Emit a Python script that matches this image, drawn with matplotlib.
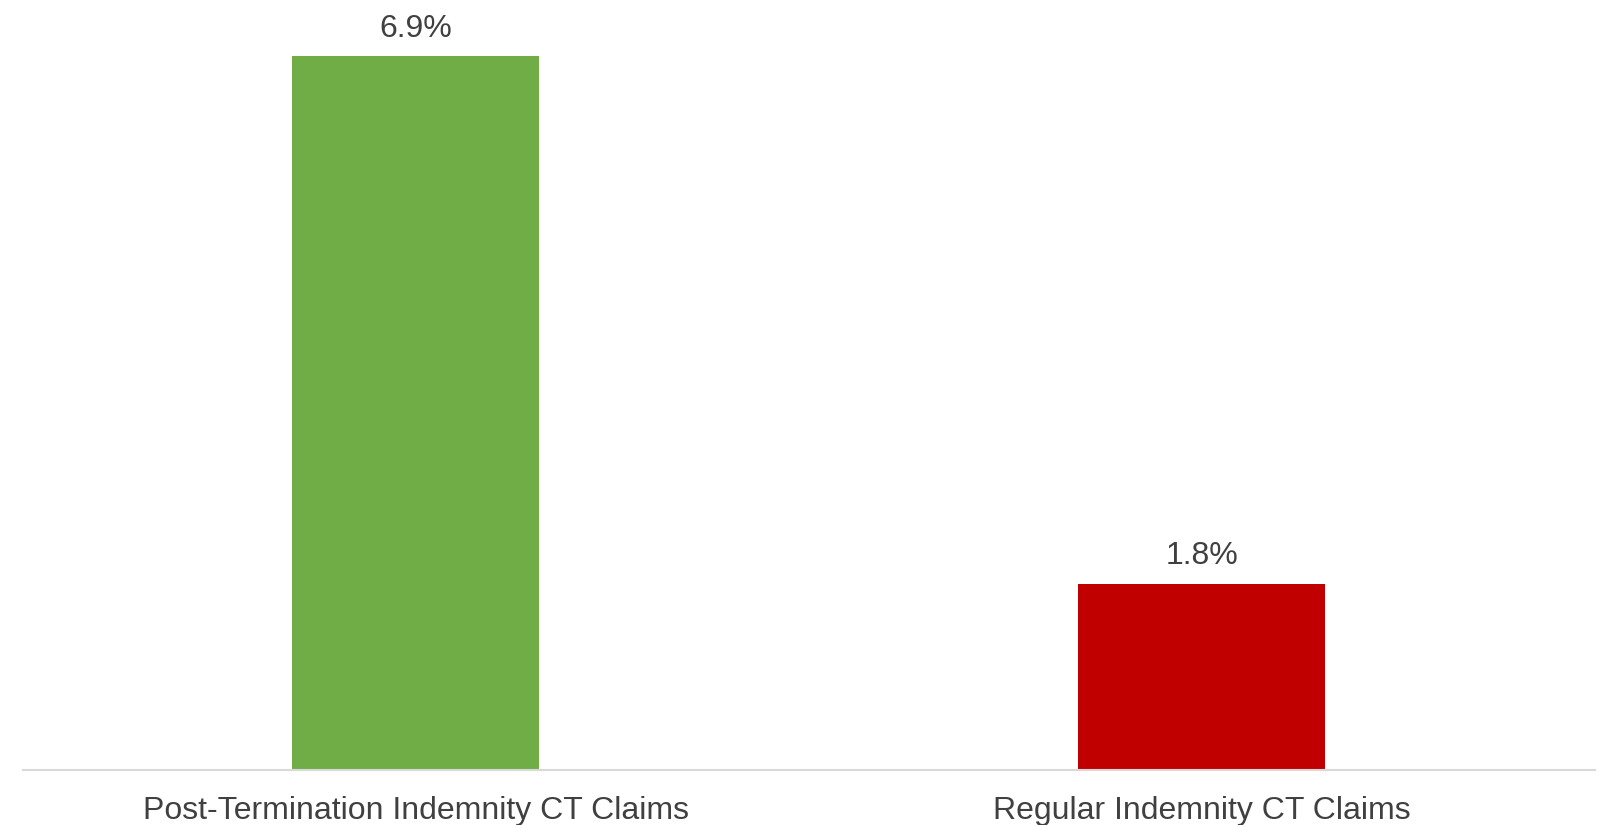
import matplotlib
matplotlib.use("Agg")
import matplotlib.pyplot as plt

# chart data
categories = ["Post-Termination Indemnity CT Claims", "Regular Indemnity CT Claims"]
values = [6.9, 1.8]
bar_colors = ["#70AD47", "#C00000"]

plt.rcParams["font.family"] = ["Liberation Sans", "DejaVu Sans"]
text_color = "#404040"

W, H = 1599, 825
fig = plt.figure(figsize=(W / 100, H / 100), dpi=100)
# axes placed in pixel terms: baseline at y=769.5, plot spans x 22.7..1595
left, right = 22.7, 1595
base, top = 769.5, 25.5
ax = fig.add_axes([left / W, (H - base) / H, (right - left) / W, (base - top) / H])

x = range(len(categories))
bars = ax.bar(x, values, width=0.314, color=bar_colors, zorder=2)

ax.set_xlim(-0.5, len(categories) - 0.5)
ax.set_ylim(0, 7.2)

for rect, v in zip(bars, values):
    ax.annotate(f"{v:.1f}%", (rect.get_x() + rect.get_width() / 2, v),
                xytext=(0, 9), textcoords="offset points",
                ha="center", va="bottom", fontsize=23, color=text_color)

ax.set_xticks(list(x))
ax.set_xticklabels(categories, fontsize=23, color=text_color)
ax.tick_params(axis="x", length=0, pad=19)
ax.set_yticks([])

for s in ["top", "right", "left"]:
    ax.spines[s].set_visible(False)
ax.spines["bottom"].set_color("#D9D9D9")
ax.spines["bottom"].set_linewidth(1.5)

fig.savefig("out.png", dpi=100)
